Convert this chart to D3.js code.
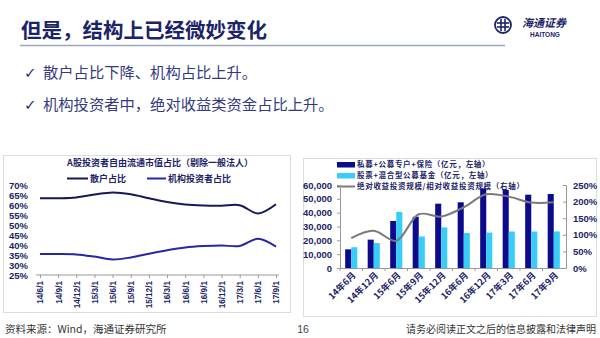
<!DOCTYPE html>
<html><head><meta charset="utf-8">
<script src="https://cdn.jsdelivr.net/npm/d3@7"></script>
<style>
html,body{margin:0;padding:0;background:#fff;}
svg{display:block;}
</style></head>
<body>
<svg id="c" width="600" height="338"></svg>
<script>
// ---------- data ----------
const leftDates = ["14/6/1","14/9/1","14/12/1","15/3/1","15/6/1","15/9/1","15/12/1","16/3/1","16/6/1","16/9/1","16/12/1","17/3/1","17/6/1","17/9/1"];
const retailShare = [63.4,63.4,63.8,65.2,66.3,65.4,63.4,61.5,60.2,59.7,59.6,59.9,55.8,60.4];
const instShare   = [35.5,35.5,35.3,34.2,32.8,33.8,35.6,37.4,38.8,39.5,39.8,39.5,43.1,39.2];
const leftTicks = [25,30,35,40,45,50,55,60,65,70];

const rightCats = ["14年6月","14年12月","15年6月","15年9月","15年12月","16年6月","16年12月","17年3月","17年6月","17年9月"];
const privFund  = [13500,20500,34000,37000,46500,47500,57500,56500,53000,53500];
const pubFund   = [15000,18000,40500,22800,29300,25300,25600,26400,26400,26400];
const absRelRatio = [90,112,82,162,155,183,222,215,197,198];
const rightLeftTicks = [0,10000,20000,30000,40000,50000,60000];
const rightRightTicks = [0,50,100,150,200,250];

const NAVY = "#1b2468";
const svg = d3.select("#c");
const CJK = "'Noto Sans CJK SC','Noto Sans',sans-serif";
const NUM = "'Liberation Sans',Arial,sans-serif";

// ---------- header ----------
svg.append("text").attr("x",21).attr("y",38).attr("font-family",CJK).attr("font-weight",700)
  .attr("font-size",20.5).attr("fill",NAVY).text("但是，结构上已经微妙变化");
svg.append("line").attr("x1",20).attr("x2",505).attr("y1",45.5).attr("y2",45.5)
  .attr("stroke","#9aa6bb").attr("stroke-width",1.5);
// logo
const lg = svg.append("g").attr("transform","translate(503,25)");
lg.append("circle").attr("r",8).attr("fill","none").attr("stroke",NAVY).attr("stroke-width",1.8);
lg.append("line").attr("x1",-6).attr("x2",6).attr("y1",-2).attr("y2",-2).attr("stroke",NAVY).attr("stroke-width",1.6);
lg.append("line").attr("x1",-6).attr("x2",6).attr("y1",2).attr("y2",2).attr("stroke",NAVY).attr("stroke-width",1.6);
lg.append("line").attr("x1",-2).attr("x2",-2).attr("y1",-6).attr("y2",6).attr("stroke",NAVY).attr("stroke-width",1.6);
lg.append("line").attr("x1",2).attr("x2",2).attr("y1",-6).attr("y2",6).attr("stroke",NAVY).attr("stroke-width",1.6);
svg.append("text").attr("x",522).attr("y",27).attr("font-family",CJK).attr("font-weight",700)
  .attr("font-size",11).attr("fill",NAVY).attr("font-style","italic").text("海通证券");
svg.append("text").attr("x",545).attr("y",37).attr("text-anchor","middle").attr("font-family",NUM).attr("font-weight",700)
  .attr("font-size",6.5).attr("fill",NAVY).text("HAITONG");

// bullets
const bullets = ["散户占比下降、机构占比上升。","机构投资者中，绝对收益类资金占比上升。"];
bullets.forEach((b,i)=>{
  const y = 78 + i*32;
  svg.append("text").attr("x",24).attr("y",y).attr("font-family","'DejaVu Sans',sans-serif")
    .attr("font-size",15).attr("font-weight",700).attr("fill","#2f3578").text("✓");
  svg.append("text").attr("x",43).attr("y",y).attr("font-family",CJK)
    .attr("font-size",15.3).attr("fill","#343a80").text(b);
});

// ---------- left chart ----------
svg.append("rect").attr("x",3.5).attr("y",155.5).attr("width",287).attr("height",157)
  .attr("fill","#fff").attr("stroke","#dcdcdc");
svg.append("text").attr("x",160).attr("y",166).attr("text-anchor","middle").attr("font-family",CJK)
  .attr("font-weight",700).attr("font-size",9).attr("fill",NAVY).text("A股投资者自由流通市值占比（剔除一般法人）");
const legL = [{t:"散户占比",c:"#17185a",x:67,w:21},{t:"机构投资者占比",c:"#2626a6",x:147,w:19}];
legL.forEach(l=>{
  svg.append("line").attr("x1",l.x).attr("x2",l.x+l.w).attr("y1",178.5).attr("y2",178.5).attr("stroke",l.c).attr("stroke-width",2);
  svg.append("text").attr("x",l.x+l.w+2).attr("y",182).attr("font-family",CJK).attr("font-weight",700)
    .attr("font-size",9).attr("fill",NAVY).text(l.t);
});
const xL = d3.scalePoint().domain(leftDates).range([40,276]);
const yL = d3.scaleLinear().domain([25,70]).range([275,185]);
const gyL = svg.append("g").attr("transform","translate(36,0)")
  .call(d3.axisLeft(yL).tickValues(leftTicks).tickFormat(d=>d+"%").tickSize(0).tickPadding(8));
gyL.select(".domain").remove();
gyL.selectAll("text").attr("font-family",NUM).attr("font-weight",700).attr("font-size",9.5).attr("fill",NAVY);
const gxL = svg.append("g").attr("transform","translate(0,275)")
  .call(d3.axisBottom(xL).tickSize(3).tickSizeOuter(0));
gxL.select(".domain").attr("d","M36,0H279").attr("stroke","#999");
gxL.selectAll(".tick line").attr("stroke","#999");
gxL.selectAll("text").attr("font-family",NUM).attr("font-weight",700).attr("font-size",8.2).attr("fill",NAVY)
  .attr("text-anchor","end").attr("transform","rotate(-90)").attr("x",-6).attr("y",0).attr("dy","0.35em");
const lineL = d3.line().x((d,i)=>xL(leftDates[i])).y(d=>yL(d)).curve(d3.curveCatmullRom.alpha(0.5));
svg.append("path").datum(retailShare).attr("d",lineL).attr("fill","none").attr("stroke","#17185a").attr("stroke-width",2);
svg.append("path").datum(instShare).attr("d",lineL).attr("fill","none").attr("stroke","#2626a6").attr("stroke-width",2);

// ---------- right chart ----------
svg.append("rect").attr("x",303.5).attr("y",158.5).attr("width",293).attr("height",158)
  .attr("fill","#fff").attr("stroke","#dcdcdc");
const DARK="#0b0b8c", CYAN="#36cdf7", GRAY="#7a7a7a";
const legR = [
  {t:"私募+公募专户+保险（亿元，左轴）",type:"rect",c:DARK,y:164.5},
  {t:"股票+混合型公募基金（亿元，左轴）",type:"rect",c:CYAN,y:175.5},
  {t:"绝对收益投资规模/相对收益投资规模（右轴）",type:"line",c:GRAY,y:186.5}];
legR.forEach(l=>{
  if(l.type==="rect") svg.append("rect").attr("x",337).attr("y",l.y-2.5).attr("width",18).attr("height",5.5).attr("fill",l.c);
  else svg.append("line").attr("x1",337).attr("x2",355).attr("y1",l.y).attr("y2",l.y).attr("stroke",l.c).attr("stroke-width",2);
  svg.append("text").attr("x",357).attr("y",l.y+2.8).attr("font-family",CJK).attr("font-weight",700)
    .attr("font-size",7.5).attr("letter-spacing",0.7).attr("fill",NAVY).text(l.t);
});
const xR = d3.scaleBand().domain(rightCats).range([340,565]).paddingInner(0.46).paddingOuter(0.23);
const yR = d3.scaleLinear().domain([0,60000]).range([268,185]);
const yR2 = d3.scaleLinear().domain([0,250]).range([268,185]);
const gyR = svg.append("g").attr("transform","translate(340,0)")
  .call(d3.axisLeft(yR).tickValues(rightLeftTicks).tickSize(3).tickPadding(5));
gyR.select(".domain").attr("stroke","#999"); gyR.selectAll(".tick line").attr("stroke","#999");
gyR.selectAll("text").attr("font-family",NUM).attr("font-weight",700).attr("font-size",9.5).attr("fill",NAVY);
const gyR2 = svg.append("g").attr("transform","translate(566,0)")
  .call(d3.axisRight(yR2).tickValues(rightRightTicks).tickFormat(d=>d+"%").tickSize(-3).tickPadding(7));
gyR2.select(".domain").attr("stroke","#999"); gyR2.selectAll(".tick line").attr("stroke","#999");
gyR2.selectAll("text").attr("font-family",NUM).attr("font-weight",700).attr("font-size",9.5).attr("fill",NAVY);
const gxR = svg.append("g").attr("transform","translate(0,268)")
  .call(d3.axisBottom(xR).tickSize(0).tickSizeOuter(0));
gxR.select(".domain").attr("stroke","#999");
gxR.selectAll("text").attr("font-family",CJK).attr("font-weight",700).attr("font-size",9).attr("fill",NAVY)
  .attr("text-anchor","end").attr("transform","rotate(-45)").attr("x",-2).attr("y",6).attr("dy","0.35em");
rightCats.forEach((c,i)=>{
  const bx = 340 + i*xR.step();
  svg.append("line").attr("x1",bx).attr("x2",bx).attr("y1",268).attr("y2",271).attr("stroke","#999");
});
const x1 = d3.scaleBand().domain(["a","b"]).range([0,xR.bandwidth()]);
svg.append("g").selectAll("rect").data(privFund).join("rect")
  .attr("x",(d,i)=>xR(rightCats[i])+x1("a")).attr("width",x1.bandwidth())
  .attr("y",d=>yR(d)).attr("height",d=>268-yR(d)).attr("fill",DARK);
svg.append("g").selectAll("rect").data(pubFund).join("rect")
  .attr("x",(d,i)=>xR(rightCats[i])+x1("b")).attr("width",x1.bandwidth())
  .attr("y",d=>yR(d)).attr("height",d=>268-yR(d)).attr("fill",CYAN);
const lineR = d3.line().x((d,i)=>xR(rightCats[i])+xR.bandwidth()/2).y(d=>yR2(d)).curve(d3.curveCatmullRom.alpha(0.5));
svg.append("path").datum(absRelRatio).attr("d",lineR).attr("fill","none").attr("stroke",GRAY).attr("stroke-width",2);

// ---------- footer ----------
svg.append("text").attr("x",5).attr("y",333).attr("font-family",CJK).attr("font-size",10.5).attr("fill","#333").text("资料来源：Wind，海通证券研究所");
svg.append("text").attr("x",303).attr("y",333).attr("text-anchor","middle").attr("font-family",NUM).attr("font-size",10.5).attr("fill","#444").text("16");
svg.append("text").attr("x",596).attr("y",333).attr("text-anchor","end").attr("font-family",CJK).attr("font-size",10).attr("fill","#333").text("请务必阅读正文之后的信息披露和法律声明");
</script>
</body></html>
